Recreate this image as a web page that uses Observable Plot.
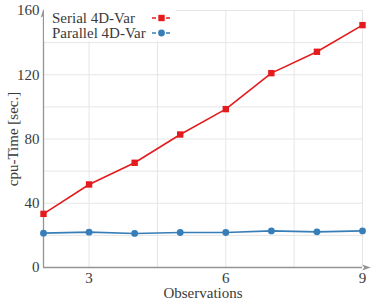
<!DOCTYPE html>
<html>
<head>
<meta charset="utf-8">
<script src="https://cdn.jsdelivr.net/npm/d3@7"></script>
<script src="https://cdn.jsdelivr.net/npm/@observablehq/plot@0.6"></script>
<style>
  body { margin: 0; background: #fff; }
  svg text { font-family: "Liberation Serif", "DejaVu Serif", serif !important; }
</style>
</head>
<body>
<div id="chart"></div>
<script>
const observations = [2, 3, 4, 5, 6, 7, 8, 9];
const serial = [33.4, 51.7, 65.2, 82.8, 98.6, 121.0, 134.3, 150.9];
const parallel = [21.4, 22.0, 21.2, 21.8, 21.8, 22.8, 22.2, 22.8];
const seriesNames = ["Serial 4D-Var", "Parallel 4D-Var"];
const seriesColors = ["#e41a1c", "#377eb8"];
const xTicks = [3, 6, 9];
const yTicks = [0, 40, 80, 120, 160];
const xGrid = [3, 4.5, 6, 7.5, 9];
const yGrid = [20, 40, 60, 80, 100, 120, 140, 160];
const xDomain = [2, 9];
const yDomain = [0, 160];

const serialData = observations.map((x, i) => ({x, y: serial[i]}));
const parallelData = observations.map((x, i) => ({x, y: parallel[i]}));

const font = "Liberation Serif";
const textColor = "#3a3a3a";
const axisColor = "#959595";
const gridColor = "#e6e6e6";

const stealth = {
  draw(ctx, size) {
    const r = Math.sqrt(size / Math.PI);
    ctx.moveTo(0, -r);
    ctx.lineTo(r * 0.68, r);
    ctx.lineTo(0, r * 0.55);
    ctx.lineTo(-r * 0.68, r);
    ctx.closePath();
  }
};

const plot = Plot.plot({
  width: 374,
  height: 301,
  marginLeft: 43,
  marginRight: 12,
  marginTop: 10,
  marginBottom: 34,
  style: {fontFamily: font, fontSize: "15px", color: textColor, background: "#fff"},
  x: {domain: xDomain},
  y: {domain: yDomain},
  marks: [
    Plot.ruleX(xGrid, {stroke: gridColor, strokeWidth: 1}),
    Plot.ruleY(yGrid, {stroke: gridColor, strokeWidth: 1}),
    Plot.axisX({ticks: xTicks, tickFormat: d3.format("d"), tickSize: 0, tickPadding: 5, label: null, fill: textColor, fontSize: 15, fontFamily: font}),
    Plot.axisY({ticks: yTicks, tickFormat: d3.format("d"), tickSize: 0, tickPadding: 4, label: null, fill: textColor, fontSize: 15, fontFamily: font}),
    Plot.ruleX([xDomain[0]], {stroke: axisColor, strokeWidth: 1.3}),
    Plot.ruleY([yDomain[0]], {stroke: axisColor, strokeWidth: 1.3}),
    Plot.dot([0], {x: () => xDomain[0], y: () => yDomain[1], symbol: stealth, r: 4.3, fill: axisColor, stroke: "none", dy: 3}),
    Plot.dot([0], {x: () => xDomain[1], y: () => yDomain[0], symbol: stealth, r: 4.3, fill: axisColor, stroke: "none", dx: 4, rotate: 90}),
    Plot.line(serialData, {x: "x", y: "y", stroke: seriesColors[0], strokeWidth: 1.6}),
    Plot.line(parallelData, {x: "x", y: "y", stroke: seriesColors[1], strokeWidth: 1.6}),
    Plot.dot(serialData, {x: "x", y: "y", symbol: "square", r: 3.6, fill: seriesColors[0], stroke: "none"}),
    Plot.dot(parallelData, {x: "x", y: "y", symbol: "circle", r: 3.4, fill: seriesColors[1], stroke: "none"}),
    Plot.text(["Observations"], {frameAnchor: "bottom", text: d => d, dy: 26, lineAnchor: "middle", fill: textColor, fontSize: 15, fontFamily: font}),
    Plot.text(["cpu-Time [sec.]"], {frameAnchor: "left", text: d => d, rotate: -90, dx: -30, lineAnchor: "middle", textAnchor: "middle", fill: textColor, fontSize: 15, fontFamily: font})
  ]
});

// Legend (inside the plot, top-left), drawn on top of grid
const svg = d3.select(plot);
const lg = svg.append("g").attr("transform", "translate(44,9)").attr("text-anchor", "start");
lg.append("rect").attr("x", 0).attr("y", 0).attr("width", 132).attr("height", 32).attr("fill", "#fff");
const symbols = [d3.symbolSquare, d3.symbolCircle];
const sizes = [3.6 * 3.6 * Math.PI, 3.4 * 3.4 * Math.PI];
seriesNames.forEach((name, i) => {
  const yy = 9 + i * 15;
  lg.append("text").attr("x", 8).attr("y", yy).attr("dy", "0.32em").attr("text-anchor", "start")
    .attr("fill", textColor).style("font-family", font).style("font-size", "15px").text(name);
  lg.append("line").attr("x1", 108).attr("x2", 127).attr("y1", yy).attr("y2", yy)
    .attr("stroke", seriesColors[i]).attr("stroke-width", 1.6).attr("stroke-dasharray", "4,3");
  lg.append("path").attr("d", d3.symbol(symbols[i], sizes[i])()).attr("transform", `translate(117.5,${yy})`)
    .attr("fill", seriesColors[i]);
});

document.getElementById("chart").appendChild(plot);
</script>
</body>
</html>
